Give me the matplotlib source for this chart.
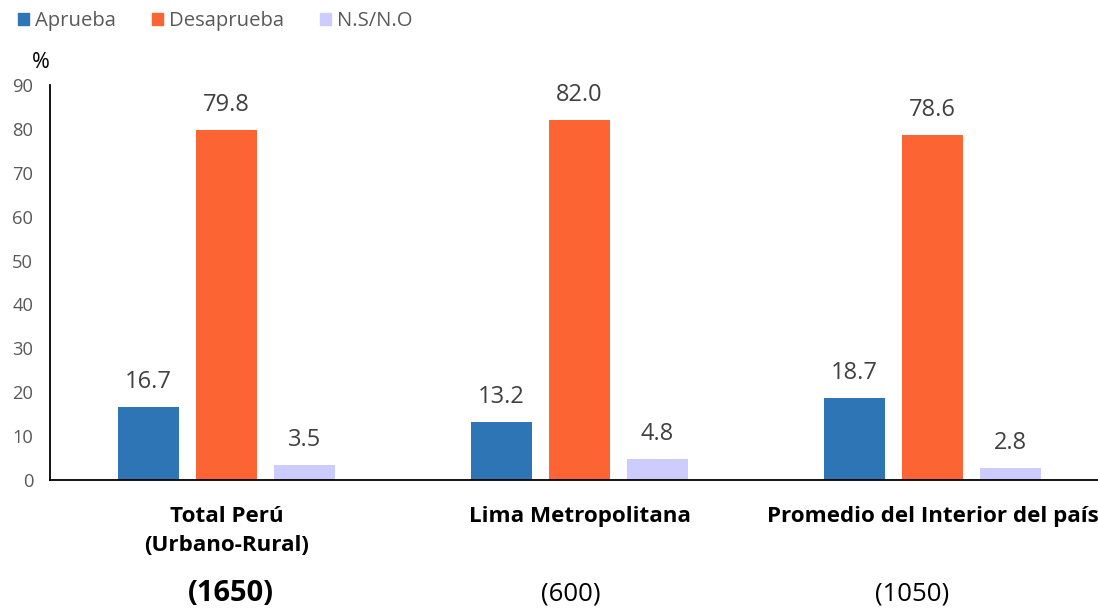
import numpy as np
import matplotlib.pyplot as plt
from matplotlib.patches import Patch

categories = ['Total Perú\n(Urbano-Rural)', 'Lima Metropolitana', 'Promedio del Interior del país']
sample_sizes = ['(1650)', '(600)', '(1050)']
series_names = ['Aprueba', 'Desaprueba', 'N.S/N.O']
aprueba = [16.7, 13.2, 18.7]
desaprueba = [79.8, 82.0, 78.6]
nsno = [3.5, 4.8, 2.8]
yticks = [0, 10, 20, 30, 40, 50, 60, 70, 80, 90]

colors = ['#2E75B6', '#FC6434', '#CCCCFF']
plt.rcParams['font.family'] = ['Open Sans', 'DejaVu Sans']

fig = plt.figure(figsize=(10.98, 6.08), dpi=100)
ax = fig.add_axes([50 / 1098, 128 / 608, 1059 / 1098, 395 / 608])

x = np.arange(len(categories))
width = 0.173
offset = 0.221
for i, (vals, name) in enumerate(zip([aprueba, desaprueba, nsno], series_names)):
    pos = x + (i - 1) * offset
    bars = ax.bar(pos, vals, width, color=colors[i], label=name)
    for b, v in zip(bars, vals):
        ax.text(b.get_x() + b.get_width() / 2, v + 2.9, f'{v:.1f}',
                ha='center', va='bottom', fontsize=17, color='#404040')

ax.set_xlim(-0.5, len(categories) - 0.5)
ax.set_ylim(0, 90)
ax.set_yticks(yticks)
ax.tick_params(axis='y', length=0, labelsize=13.2, labelcolor='#595959', pad=12)
ax.set_xticks(x)
ax.set_xticklabels(categories, fontsize=16.1, fontweight='bold', linespacing=1.45)
ax.tick_params(axis='x', length=0, pad=19)
for s in ['top', 'right']:
    ax.spines[s].set_visible(False)
ax.spines['left'].set_color('#000000')
ax.spines['bottom'].set_color('#000000')
ax.spines['left'].set_linewidth(1.3)
ax.spines['bottom'].set_linewidth(1.3)

# the sample-size labels sit slightly off the group centres in the original
nudges = [3, -6, -15]
for i, s in enumerate(sample_sizes):
    bold = (i == 0)
    ax.annotate(s, xy=(x[i], 0), xycoords=('data', 'axes fraction'),
                xytext=(nudges[i], -82), textcoords='offset points',
                ha='center', va='center',
                fontsize=21 if bold else 18.5,
                fontweight='bold' if bold else 'normal', color='black')

fig.text(41 / 1098, 1 - 62 / 608, '%', fontsize=15.5, ha='center', va='center')

handles = [Patch(color=c) for c in colors]
fig.legend(handles, series_names, loc='upper left', bbox_to_anchor=(0.0, 1.012),
           ncol=3, frameon=False, fontsize=14.6, handlelength=0.55, handleheight=0.55,
           handletextpad=0.3, columnspacing=1.75, labelcolor='#595959')

fig.savefig('out.png', dpi=100)
